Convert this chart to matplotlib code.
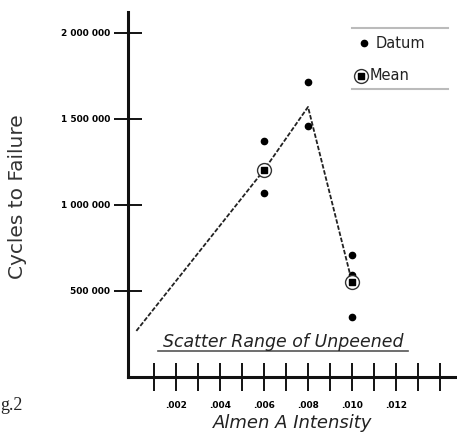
import matplotlib
matplotlib.use("Agg")
import matplotlib.pyplot as plt
from matplotlib.lines import Line2D

# Data
datum_x = [0.006, 0.006, 0.008, 0.008, 0.010, 0.010, 0.010]
datum_y = [1372000, 1070000, 1715000, 1459000, 709000, 593000, 349000]
mean_x = [0.006, 0.010]
mean_y = [1203000, 552000]
trend_x = [0.0002, 0.006, 0.008, 0.010]
trend_y = [268000, 1203000, 1570000, 552000]

y_ticks = [500000, 1000000, 1500000, 2000000]
y_tick_labels = ["500 000", "1 000 000", "1 500 000", "2 000 000"]
x_major = [0.002, 0.004, 0.006, 0.008, 0.010, 0.012]
x_major_labels = [".002", ".004", ".006", ".008", ".010", ".012"]
x_minor = [0.001, 0.003, 0.005, 0.007, 0.009, 0.011, 0.013, 0.014]

W, H = 457, 434
fig = plt.figure(figsize=(W / 100, H / 100), dpi=100)
ax = fig.add_axes([128 / W, (H - 377) / H, (W - 128) / W, (377 - 12) / H])
ax.set_xlim(-0.00018, 0.01477)
ax.set_ylim(0, 2122000)

for s in ["top", "right"]:
    ax.spines[s].set_visible(False)
for s in ["left", "bottom"]:
    ax.spines[s].set_linewidth(2.2)
    ax.spines[s].set_color("#111111")

ax.plot(trend_x, trend_y, color="#222222", lw=1.3, ls=(0, (2.5, 1)), zorder=2)
ax.plot(datum_x, datum_y, ls="none", marker="o", ms=4.5, color="black", zorder=3)
ax.plot(mean_x, mean_y, ls="none", marker="o", ms=10, mfc="white", mec="#333333", mew=1.0, zorder=4)
ax.plot(mean_x, mean_y, ls="none", marker="s", ms=5, color="black", zorder=5)

ax.set_yticks(y_ticks)
ax.set_yticklabels(y_tick_labels, fontsize=6.5, fontweight="bold")
ax.tick_params(axis="y", direction="inout", length=20, width=1.3, pad=3)
ax.set_xticks(x_major)
ax.set_xticklabels(x_major_labels, fontsize=6.5, fontweight="bold")
ax.set_xticks(x_minor, minor=True)
ax.tick_params(axis="x", which="both", direction="inout", length=20, width=1.3, pad=7)
ax.get_yticklines()[4].set_color("#bbbbbb")
ax.get_yticklines()[5].set_color("#bbbbbb")

# Axis titles
fig.text(18 / W, 1 - 197 / H, "Cycles to Failure", rotation=90, fontsize=14.5,
         ha="center", va="center", color="#333333")
fig.text(293 / W, 1 - 423 / H, "Almen A Intensity", fontsize=13, style="italic",
         ha="center", va="center", color="#222222")
fig.text(0 / W, 1 - 405 / H, "g.2", fontsize=13, family="Liberation Serif",
         ha="left", va="center", color="#222222")

# Scatter range annotation
fig.text(283 / W, 1 - 342 / H, "Scatter Range of Unpeened", fontsize=12.5, style="italic",
         ha="center", va="center", color="#222222")
fig.add_artist(Line2D([158 / W, 408 / W], [1 - 351 / H, 1 - 351 / H], color="#555555", lw=1.2))

# Legend block
fig.add_artist(Line2D([352 / W, 448 / W], [1 - 28 / H, 1 - 28 / H], color="#bbbbbb", lw=1.5))
fig.add_artist(Line2D([352 / W, 448 / W], [1 - 89 / H, 1 - 89 / H], color="#bbbbbb", lw=1.5))
fig.add_artist(Line2D([364 / W], [1 - 43 / H], marker="o", ms=4.5, color="black", ls="none"))
fig.add_artist(Line2D([361 / W], [1 - 76 / H], marker="o", ms=10, mfc="white", mec="#333333", mew=1.0, ls="none"))
fig.add_artist(Line2D([361 / W], [1 - 76 / H], marker="s", ms=5, color="black", ls="none"))
fig.text(376 / W, 1 - 43 / H, "Datum", fontsize=10.5, ha="left", va="center", color="#222222")
fig.text(370 / W, 1 - 76 / H, "Mean", fontsize=10.5, ha="left", va="center", color="#222222")

fig.savefig("out.png", dpi=100)
